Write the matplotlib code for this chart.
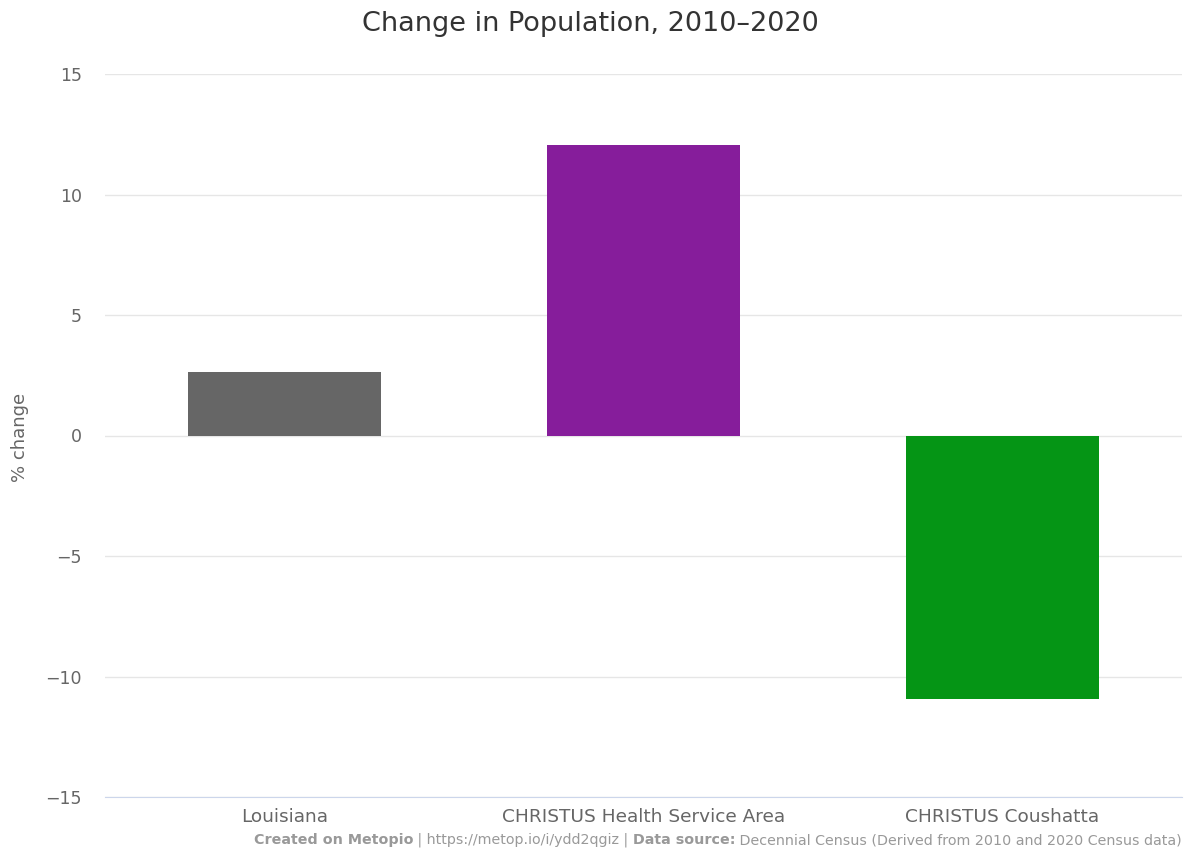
import matplotlib
matplotlib.use("Agg")
import matplotlib.pyplot as plt

categories = ["Louisiana", "CHRISTUS Health Service Area", "CHRISTUS Coushatta"]
values = [2.65, 12.05, -10.95]
colors = ["#666666", "#861d9b", "#059515"]
yticks = [-15, -10, -5, 0, 5, 10, 15]

plt.rcParams['font.family'] = ['DejaVu Sans']

W, H = 1189, 850
fig = plt.figure(figsize=(W / 100, H / 100), dpi=100)
ax = fig.add_axes([105 / W, 1 - 797 / H, (1182 - 105) / W, (797 - 74) / H])

x = list(range(len(categories)))
ax.bar(x, values, width=0.54, color=colors, zorder=3)
ax.set_xlim(-0.5, len(categories) - 0.5)
ax.set_ylim(-15, 15)
ax.set_yticks(yticks)
ax.set_yticklabels([str(t).replace("-", "\u2212") for t in yticks])
ax.set_xticks(x)
ax.set_xticklabels(categories)
ax.grid(axis='y', color='#e6e6e6', linewidth=1, zorder=0)
for s in ['top', 'right', 'left']:
    ax.spines[s].set_visible(False)
ax.spines['bottom'].set_color('#ccd6eb')
ax.tick_params(axis='y', length=0, labelsize=12.5, colors='#666666', labelcolor='#666666', pad=16.5)
ax.tick_params(axis='x', length=0, labelsize=13.3, colors='#666666', labelcolor='#666666', pad=8)

fig.text(20 / W, 1 - 437 / H, "% change", rotation=90, ha='center', va='center',
         fontsize=13, color='#666666')

fig.text(590 / W, 1 - 24 / H, "Change in Population, 2010\u20132020", ha='center', va='center',
         fontsize=19.5, color='#333333')

# footer built from pieces, right-aligned at x=1182
pieces = [
    ("Created on Metopio", 'bold'),
    (" | https://metop.io/i/ydd2qgiz | ", 'normal'),
    ("Data source:", 'bold'),
    (" Decennial Census (Derived from 2010 and 2020 Census data)", 'normal'),
]
fig.canvas.draw()
renderer = fig.canvas.get_renderer()
texts = []
for s, w in pieces:
    t = fig.text(0, 1 - 840 / H, s, ha='left', va='center', fontsize=10.3,
                 color='#999999', fontweight=w)
    texts.append(t)
widths = [t.get_window_extent(renderer).width for t in texts]
xcur = 1182 - sum(widths)
for t, wpx in zip(texts, widths):
    t.set_x(xcur / W)
    xcur += wpx

fig.savefig("out.png", dpi=100, facecolor='white')
